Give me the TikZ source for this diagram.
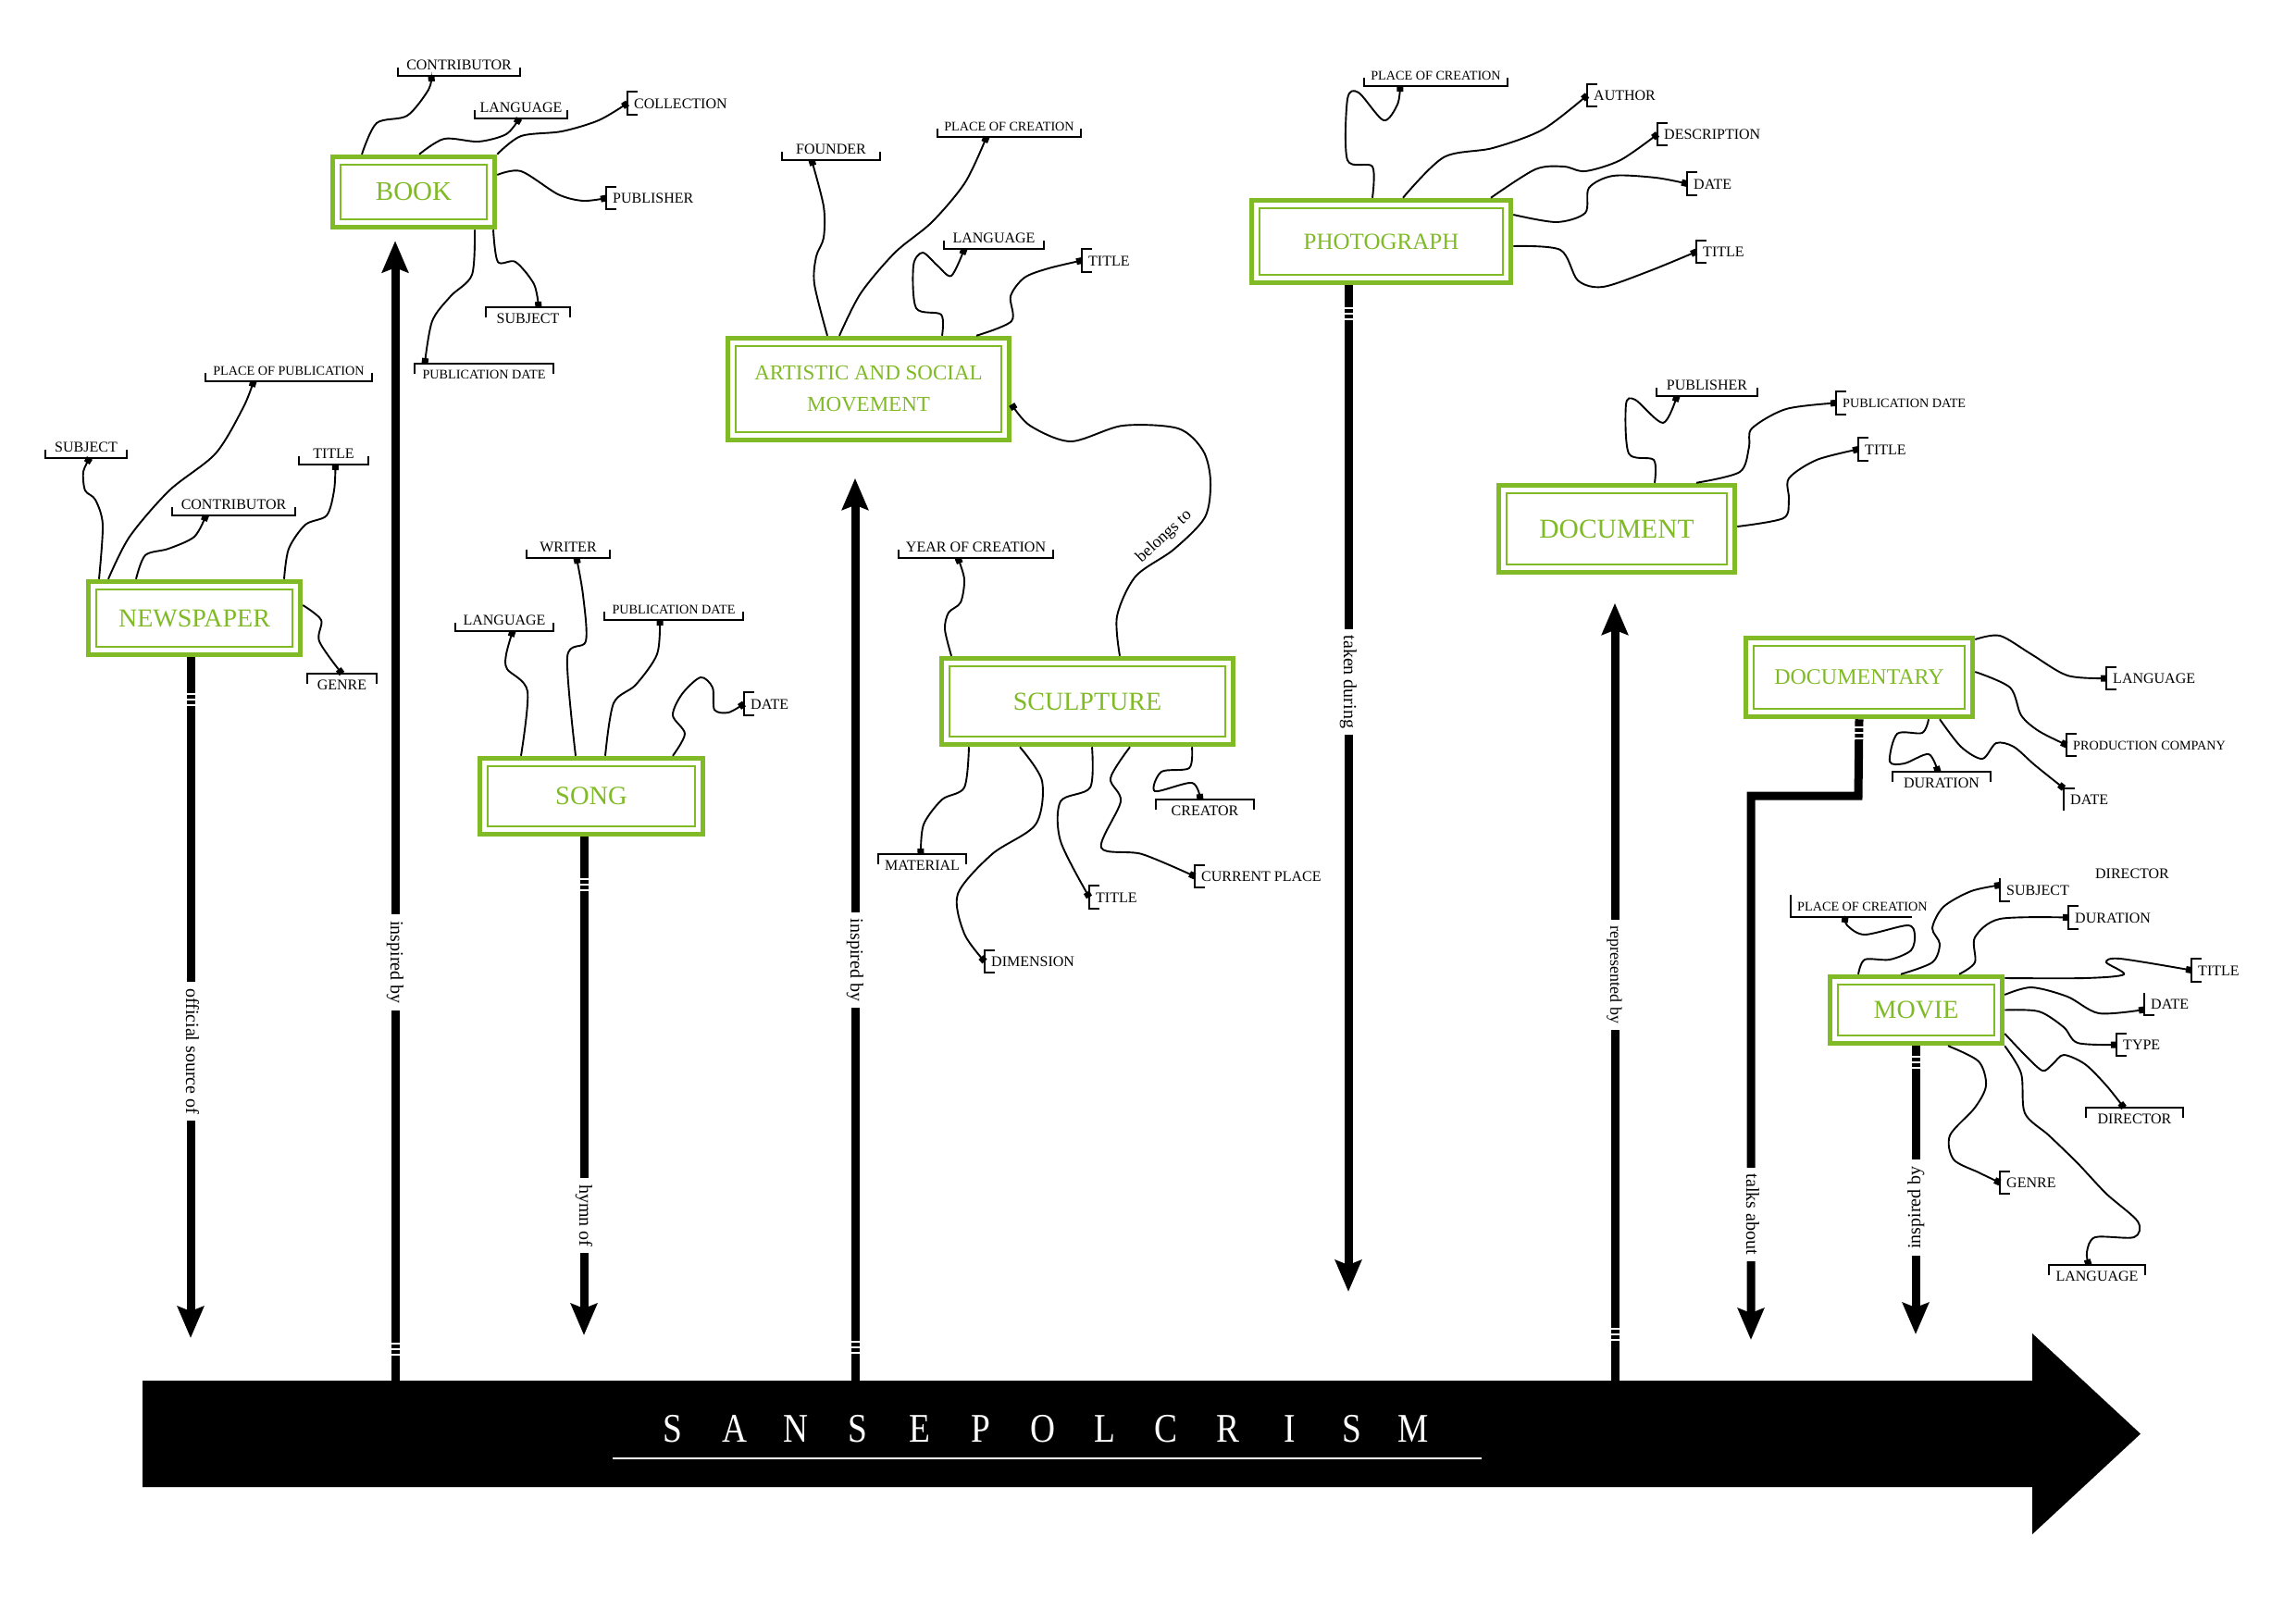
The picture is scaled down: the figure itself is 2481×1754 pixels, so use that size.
\documentclass[tikz,border=0pt]{standalone}
\usepackage{fontspec}
\setmainfont{Liberation Serif}
\usetikzlibrary{arrows.meta}
\definecolor{entgreen}{RGB}{128,186,39}
\newcommand\brUnder[1]{\draw[brk] ([yshift=9pt]#1.south west) -- (#1.south west) -- (#1.south east) -- ([yshift=9pt]#1.south east);}
\newcommand\brOver[1]{\draw[brk] ([yshift=-11pt]#1.north west) -- (#1.north west) -- (#1.north east) -- ([yshift=-11pt]#1.north east);}
\newcommand\brLeft[1]{\draw[brk] ([xshift=11pt]#1.north west) -- (#1.north west) -- (#1.south west) -- ([xshift=11pt]#1.south west);}
\newcommand\relbands[2]{\foreach \dd in {0,6,12}{\draw[white,line width=2pt] ({#1-6},{#2+\dd}) -- ({#1+6},{#2+\dd});}}
\newcommand\ltr[1]{\makebox[66.7pt]{\scalebox{0.85}[1]{#1}}}
\tikzset{
  ent/.style={draw=entgreen, line width=5.5pt, fill=white, inner sep=0pt, text=entgreen, align=center,
    path picture={\draw[entgreen,line width=1.8pt] ([shift={(8.5pt,-8.5pt)}]path picture bounding box.north west) rectangle ([shift={(-8.5pt,8.5pt)}]path picture bounding box.south east);}},
  lab/.style={font=\fontsize{16}{18}\selectfont, text height=11.5pt, text depth=0pt, inner xsep=0pt, inner ysep=6pt},
  sml/.style={font=\fontsize{14.2}{16}\selectfont, text height=10pt},
  under/.style={lab, anchor=south},
  over/.style={lab, anchor=north},
  leftb/.style={lab, anchor=west, inner xsep=7pt, minimum height=24pt},
  brk/.style={line width=2.2pt},
  con/.style={line width=1.9pt, -{Square[length=6pt,width=7pt]}},
  rel/.style={line width=9pt, -{Stealth[length=34pt,width=28pt,inset=5pt]}},
  rlab/.style={fill=white, font=\fontsize{20}{20}\selectfont, inner xsep=7pt, inner ysep=1pt, text height=14pt, text depth=4pt}
}
\begin{document}
\begin{tikzpicture}[x=1pt,y=-1pt]
\useasboundingbox (0,0) rectangle (2481,1754);
\fill[white] (0,0) rectangle (2481,1754);

% ---------- timeline ----------
\fill (154,1492) -- (2196,1492) -- (2196,1441) -- (2313,1549.5) -- (2196,1658) -- (2196,1607) -- (154,1607) -- cycle;
\node[text=white, font=\fontsize{44}{44}\selectfont, anchor=base, inner sep=0pt] (ttl) at (1127,1558)
  {\ltr{S}\ltr{A}\ltr{N}\ltr{S}\ltr{E}\ltr{P}\ltr{O}\ltr{L}\ltr{C}\ltr{R}\ltr{I}\ltr{S}\ltr{M}};
\draw[white, line width=2.5pt] (662,1576) -- (1601,1576);

% ---------- entity boxes ----------
\node[ent, minimum width=229pt, minimum height=79pt, font=\fontsize{28}{30}\selectfont] (np) at (210,668) {NEWSPAPER};
\node[ent, minimum width=175pt, minimum height=76pt, font=\fontsize{29}{30}\selectfont] (bk) at (447,207.5) {BOOK};
\node[ent, minimum width=241pt, minimum height=82pt, font=\fontsize{28.5}{30}\selectfont] (sg) at (639,860.5) {SONG};
\node[ent, minimum width=304pt, minimum height=110pt, font=\fontsize{23}{34}\selectfont] (am) at (938.5,420.5) {ARTISTIC AND SOCIAL\\MOVEMENT};
\node[ent, minimum width=315pt, minimum height=93pt, font=\fontsize{28}{30}\selectfont] (sc) at (1175,758) {SCULPTURE};
\node[ent, minimum width=280pt, minimum height=89pt, font=\fontsize{25}{30}\selectfont] (ph) at (1492.5,261) {PHOTOGRAPH};
\node[ent, minimum width=255pt, minimum height=94pt, font=\fontsize{29.5}{30}\selectfont] (dc) at (1747,571.5) {DOCUMENT};
\node[ent, minimum width=245pt, minimum height=85pt, font=\fontsize{24}{30}\selectfont] (dy) at (2009,732) {DOCUMENTARY};
\node[ent, minimum width=186pt, minimum height=72pt, font=\fontsize{28}{30}\selectfont] (mv) at (2070.5,1091.5) {MOVIE};

% ---------- relation arrows ----------
\coordinate (npT) at (206,1446);
\draw[rel] ([xshift=-4pt]np.south) -- node[rlab, rotate=-90, pos=0.579] (l1) {official source of} (npT);
\coordinate (bkS) at (427,1492);
\draw[rel] (bkS) -- node[rlab, rotate=-90, pos=0.367] (l2) {inspired by} ([xshift=-20pt,yshift=-12pt]bk.south);
\coordinate (sgT) at (631,1443);
\draw[rel] ([xshift=-8pt]sg.south) -- node[rlab, rotate=-90, pos=0.76] (l3) {hymn of} (sgT);
\coordinate (amS) at (924,1492);
\draw[rel] (amS) -- node[rlab, rotate=-90, pos=0.466] (l4) {inspired by} ([xshift=-14.5pt,yshift=-38.5pt]am.south);
\coordinate (phT) at (1457,1396);
\draw[rel] ([xshift=-35.5pt]ph.south) -- node[rlab, rotate=-90, pos=0.394] (l5) {taken during} (phT);
\coordinate (dcS) at (1745,1492);
\draw[rel] (dcS) -- node[rlab, rotate=-90, pos=0.522, font=\fontsize{18}{18}\selectfont] (l6) {represented by} ([xshift=-2pt,yshift=-30.5pt]dc.south);
\coordinate (dyA) at (2008,860);
\coordinate (dyB) at (1892,860);
\coordinate (dyT) at (1892,1448);
\draw[rel, line join=miter] (dy.south) -- (dyA) -- (dyB) -- node[rlab, rotate=-90, pos=0.769] (l7) {talks about} (dyT);
\coordinate (mvT) at (2070,1442);
\draw[rel] ([xshift=-0.5pt]mv.south) -- node[rlab, rotate=90, pos=0.56] (l8) {inspired by} (mvT);

\relbands{206}{750}
\relbands{427}{1452}
\relbands{631}{950}
\relbands{924}{1450}
\relbands{1457}{333}
\relbands{1745}{1436}
\relbands{2008}{786}
\relbands{2070}{1142}

% ---------- attribute labels ----------
% newspaper
\node[under, minimum width=88pt] (nSub) at (93,495) {SUBJECT}; \brUnder{nSub}
\node[under, sml, minimum width=180pt] (nPlace) at (312,412) {PLACE OF PUBLICATION}; \brUnder{nPlace}
\node[under, minimum width=133pt] (nContr) at (252.5,557) {CONTRIBUTOR}; \brUnder{nContr}
\node[under, minimum width=75pt] (nTitle) at (360.5,502) {TITLE}; \brUnder{nTitle}
\node[over, minimum width=75pt] (nGenre) at (369.5,728) {GENRE}; \brOver{nGenre}
% book
\node[under, minimum width=132pt] (bContr) at (496,82) {CONTRIBUTOR}; \brUnder{bContr}
\node[under, minimum width=100pt] (bLang) at (563,128) {LANGUAGE}; \brUnder{bLang}
\node[leftb] (bColl) at (678,111.5) {COLLECTION}; \brLeft{bColl}
\node[leftb] (bPub) at (655,214) {PUBLISHER}; \brLeft{bPub}
\node[over, minimum width=91pt] (bSubj) at (570.5,332) {SUBJECT}; \brOver{bSubj}
\node[over, sml, minimum width=150pt] (bPubDate) at (523,393) {PUBLICATION DATE}; \brOver{bPubDate}
% song
\node[under, minimum width=106pt] (sLang) at (545,682) {LANGUAGE}; \brUnder{sLang}
\node[under, minimum width=90pt] (sWriter) at (614,603) {WRITER}; \brUnder{sWriter}
\node[under, sml, minimum width=150pt] (sPubDate) at (728,670) {PUBLICATION DATE}; \brUnder{sPubDate}
\node[leftb] (sDate) at (804,760.5) {DATE}; \brLeft{sDate}
% artistic and social movement
\node[under, minimum width=106pt] (aFounder) at (898,173) {FOUNDER}; \brUnder{aFounder}
\node[under, sml, minimum width=155pt] (aPlace) at (1090.5,148) {PLACE OF CREATION}; \brUnder{aPlace}
\node[under, minimum width=108pt] (aLang) at (1074,269) {LANGUAGE}; \brUnder{aLang}
\node[leftb] (aTitle) at (1169,281.5) {TITLE}; \brLeft{aTitle}
% sculpture
\node[under, minimum width=167pt] (scYear) at (1054.5,603) {YEAR OF CREATION}; \brUnder{scYear}
\node[over, minimum width=95pt] (scMat) at (996.5,923) {MATERIAL}; \brOver{scMat}
\node[leftb] (scDim) at (1064,1039) {DIMENSION}; \brLeft{scDim}
\node[leftb] (scTitle) at (1177,969.5) {TITLE}; \brLeft{scTitle}
\node[leftb] (scPlace) at (1291,947) {CURRENT PLACE}; \brLeft{scPlace}
\node[over, minimum width=106pt] (scCreator) at (1302,864) {CREATOR}; \brOver{scCreator}
% photograph
\node[under, sml, minimum width=155pt] (pPlace) at (1551.5,93) {PLACE OF CREATION}; \brUnder{pPlace}
\node[leftb] (pAuthor) at (1715,103) {AUTHOR}; \brLeft{pAuthor}
\node[leftb] (pDesc) at (1791,145) {DESCRIPTION}; \brLeft{pDesc}
\node[leftb] (pDate) at (1823,198.5) {DATE}; \brLeft{pDate}
\node[leftb] (pTitle) at (1833,272) {TITLE}; \brLeft{pTitle}
% document
\node[under, minimum width=109pt] (dPub) at (1844.5,428) {PUBLISHER}; \brUnder{dPub}
\node[leftb, sml] (dPubDate) at (1984,435.5) {PUBLICATION DATE}; \brLeft{dPubDate}
\node[leftb] (dTitle) at (2008,485.5) {TITLE}; \brLeft{dTitle}
% documentary
\node[leftb] (tLang) at (2276,733) {LANGUAGE}; \brLeft{tLang}
\node[leftb, sml] (tProd) at (2233,805) {PRODUCTION COMPANY}; \brLeft{tProd}
\node[over, minimum width=106pt] (tDur) at (2098,834) {DURATION}; \brOver{tDur}
\node[leftb] (tDate) at (2230,864) {DATE};
\draw[brk] (tDate.south west) -- (tDate.north west) -- ([xshift=12pt]tDate.north west);
% movie
\node[lab] (mDirTxt) at (2304,944) {DIRECTOR};
\node[lab, sml, anchor=south west, inner xsep=7pt] (mPlace) at (1935,991) {PLACE OF CREATION};
\draw[brk] ([yshift=24pt]mPlace.south west) -- (mPlace.south west) -- ([xshift=131pt]mPlace.south west);
\node[leftb] (mSubj) at (2161,961.5) {SUBJECT};
\draw[brk] (mSubj.north west) -- (mSubj.south west) -- ([xshift=11pt]mSubj.south west);
\node[leftb] (mDur) at (2235,991.5) {DURATION}; \brLeft{mDur}
\node[leftb] (mTitle) at (2368,1048.5) {TITLE}; \brLeft{mTitle}
\node[leftb, minimum height=20pt] (mDate) at (2317,1085) {DATE};
\draw[brk] (mDate.north west) -- (mDate.south west) -- ([xshift=11pt]mDate.south west);
\node[leftb] (mType) at (2287,1129) {TYPE}; \brLeft{mType}
\node[over, minimum width=105pt] (mDir) at (2306.5,1197) {DIRECTOR}; \brOver{mDir}
\node[leftb] (mGenre) at (2161,1278) {GENRE}; \brLeft{mGenre}
\node[over, minimum width=104pt] (mLang) at (2266,1367) {LANGUAGE}; \brOver{mLang}

% ---------- attribute connectors ----------
% newspaper
\draw[con] plot[smooth] coordinates {([xshift=-103pt]np.north) (111,567) (103,540) (92,530) (90,510) ([xshift=4pt]nSub.south)};
\draw[con] plot[smooth] coordinates {([xshift=-93pt]np.north) (140,580) (183,530) (233,490) (263,440) ([xshift=-38pt]nPlace.south)};
\draw[con] plot[smooth] coordinates {([xshift=-63pt]np.north) (157,600) (182,593) (210,580) ([xshift=-30pt]nContr.south)};
\draw[con] plot[smooth] coordinates {([xshift=97pt]np.north) (312,593) (330,567) (353,557) (361,530) ([xshift=2pt]nTitle.south)};
\draw[con] plot[smooth] coordinates {([yshift=14pt]np.east) (347,670) (345,693) (nGenre.north)};
% book
\draw[con] plot[smooth] coordinates {([xshift=-56pt]bk.north) (407,133) (440,125) (463,97) ([xshift=-30pt]bContr.south)};
\draw[con] plot[smooth] coordinates {([xshift=6pt]bk.north) (480,150) (517,153) (547,145) ([xshift=-2pt]bLang.south)};
\draw[con] plot[smooth] coordinates {(bk.north east) (563,147) (607,142) (647,130) (bColl.west)};
\draw[con] plot[smooth] coordinates {([yshift=18.5pt]bk.east) (563,185) (603,210) (630,217) (bPub.west)};
\draw[con] plot[smooth] coordinates {([xshift=86pt]bk.south) (538,283) (557,283) (577,307) ([xshift=11.5pt]bSubj.north)};
\draw[con] plot[smooth] coordinates {([xshift=66pt]bk.south) (510,297) (487,320) (467,347) ([xshift=-64pt]bPubDate.north)};
% song
\draw[con] plot[smooth] coordinates {([xshift=-76pt]sg.north) (570,747) (548,723) (547,707) ([xshift=9pt]sLang.south)};
\draw[con] plot[smooth] coordinates {([xshift=-17pt]sg.north) (613,710) (633,693) (630,643) ([xshift=9pt]sWriter.south)};
\draw[con] plot[smooth] coordinates {([xshift=15pt]sg.north) (663,760) (687,740) (710,707) ([xshift=-15pt]sPubDate.south)};
\draw[con] plot[smooth] coordinates {([xshift=88pt]sg.north) (740,793) (727,773) (737,750) (757,732) (770,743) (772,767) (787,770) (sDate.west)};
% artistic
\draw[con] plot[smooth] coordinates {([xshift=-44.5pt]am.north) (880,307) (882,277) (890,257) (890,223) ([xshift=-21pt]aFounder.south)};
\draw[con] plot[smooth] coordinates {([xshift=-31.5pt]am.north) (930,317) (967,273) (1007,240) (1043,197) ([xshift=-24.5pt]aPlace.south)};
\draw[con] plot[smooth] coordinates {([xshift=79.5pt]am.north) (1017,340) (990,333) (987,287) (997,273) (1013,287) (1028,298) ([xshift=-32pt]aLang.south)};
\draw[con] plot[smooth] coordinates {([xshift=116.5pt]am.north) (1093,347) (1092,320) (1107,300) (1133,290) (aTitle.west)};
% sculpture
\draw[con] plot[smooth] coordinates {([xshift=-147pt]sc.north) (1021,680) (1025,662) (1038,651) (1042,626) ([xshift=-19.5pt]scYear.south)};
\draw[con] plot[smooth] coordinates {([xshift=35pt]sc.north) (1207,666) (1227,623) (1268,594) (1302,559) (1308,520) (1300,487) (1273,463) (1213,460) (1157,477) (1113,460) ([yshift=-16.5pt]am.east)};
\node[font=\fontsize{18}{18}\selectfont, rotate=43] (blg) at (1258,580) {belongs to};
\draw[con] plot[smooth] coordinates {([xshift=-128pt]sc.south) (1042,851) (1018,864) (998,891) ([xshift=-1.5pt]scMat.north)};
\draw[con] plot[smooth] coordinates {([xshift=-73pt]sc.south) (1126,844) (1119,891) (1072,923) (1035,966) (1042,1009) (scDim.west)};
\draw[con] plot[smooth] coordinates {([xshift=5pt]sc.south) (1178,851) (1146,866) (1146,909) (scTitle.west)};
\draw[con] plot[smooth] coordinates {([xshift=46pt]sc.south) (1200,841) (1211,866) (1190,916) (1234,923) (scPlace.west)};
\draw[con] plot[smooth] coordinates {([xshift=113pt]sc.south) (1285,830) (1255,834) (1248,855) (1288,846) ([xshift=-5pt]scCreator.north)};
% photograph
\draw[con] plot[smooth] coordinates {([xshift=-9.5pt]ph.north) (1483,180) (1456,173) (1456,107) (1468,100) (1495,130) (1510,113) ([xshift=-38.5pt]pPlace.south)};
\draw[con] plot[smooth] coordinates {([xshift=23.5pt]ph.north) (1560,170) (1613,160) (1667,140) (pAuthor.west)};
\draw[con] plot[smooth] coordinates {([xshift=118.5pt]ph.north) (1659,183) (1690,180) (1713,185) (1751,173) (pDesc.west)};
\draw[con] plot[smooth] coordinates {([yshift=29pt]ph.east) (1682,240) (1713,230) (1717,203) (1743,190) (1789,192) (pDate.west)};
\draw[con] plot[smooth] coordinates {([yshift=-5pt]ph.east) (1686,270) (1705,303) (1732,310) (1782,293) (pTitle.west)};
% document
\draw[con] plot[smooth] coordinates {([xshift=41pt]dc.north) (1787,497) (1760,490) (1757,437) (1767,432) (1797,457) ([xshift=-32.5pt]dPub.south)};
\draw[con] plot[smooth] coordinates {([xshift=86pt]dc.north) (1880,510) (1890,483) (1893,463) (1930,442) (dPubDate.west)};
\draw[con] plot[smooth] coordinates {([yshift=2.5pt]dc.east) (1927,560) (1933,540) (1933,517) (1963,497) (dTitle.west)};
% documentary
\draw[con] plot[smooth] coordinates {([yshift=41pt]dy.east) (2161,687) (2195,707) (2234,730) (tLang.west)};
\draw[con] plot[smooth] coordinates {([yshift=6pt]dy.east) (2172,743) (2184,773) (2203,790) (tProd.west)};
\draw[con] plot[smooth] coordinates {([xshift=75pt]dy.south) (2077,792) (2050,793) (2042,823) (2058,825) (2084,815) ([xshift=-4pt]tDur.north)};
\draw[con] plot[smooth] coordinates {([xshift=87pt]dy.south) (2119,807) (2142,820) (2157,803) (2176,807) (2199,827) (tDate.north west)};
% movie
\draw[con] plot[smooth] coordinates {([xshift=-62.5pt]mv.north) (2015,1037) (2042,1037) (2065,1027) (2069,1010) (2061,1000) (2015,1010) (1996,1000) ([xshift=59pt]mPlace.south west)};
\draw[con] plot[smooth] coordinates {([xshift=-16.5pt]mv.north) (2088,1040) (2096,1020) (2088,1003) (2100,980) (2130,963) ([yshift=5pt]mSubj.west)};
\draw[con] plot[smooth] coordinates {([xshift=46.5pt]mv.north) (2134,1040) (2134,1013) (2161,993) (mDur.west)};
\draw[con] plot[smooth] coordinates {([yshift=34.5pt]mv.east) (2253,1057) (2295,1053) (2276,1040) (2291,1036) (mTitle.west)};
\draw[con] plot[smooth] coordinates {([yshift=16.5pt]mv.east) (2195,1067) (2234,1077) (2268,1095) ([yshift=-6pt]mDate.west)};
\draw[con] plot[smooth] coordinates {(mv.east) (2203,1093) (2230,1110) (2245,1127) (mType.west)};
\draw[con] plot[smooth] coordinates {([yshift=-25.5pt]mv.east) (2188,1140) (2207,1157) (2218,1150) (2230,1140) (2253,1150) (2276,1173) ([xshift=-11.5pt]mDir.north)};
\draw[con] plot[smooth] coordinates {([xshift=34.5pt]mv.south) (2138,1147) (2146,1173) (2134,1197) (2107,1227) (2111,1253) (2138,1267) (mGenre.west)};
\draw[con] plot[smooth] coordinates {(mv.south east) (2184,1160) (2188,1203) (2214,1227) (2245,1257) (2276,1290) (2310,1320) (2306,1337) (2264,1337) (2255,1353) ([xshift=-9pt]mLang.north)};
\end{tikzpicture}
\end{document}
